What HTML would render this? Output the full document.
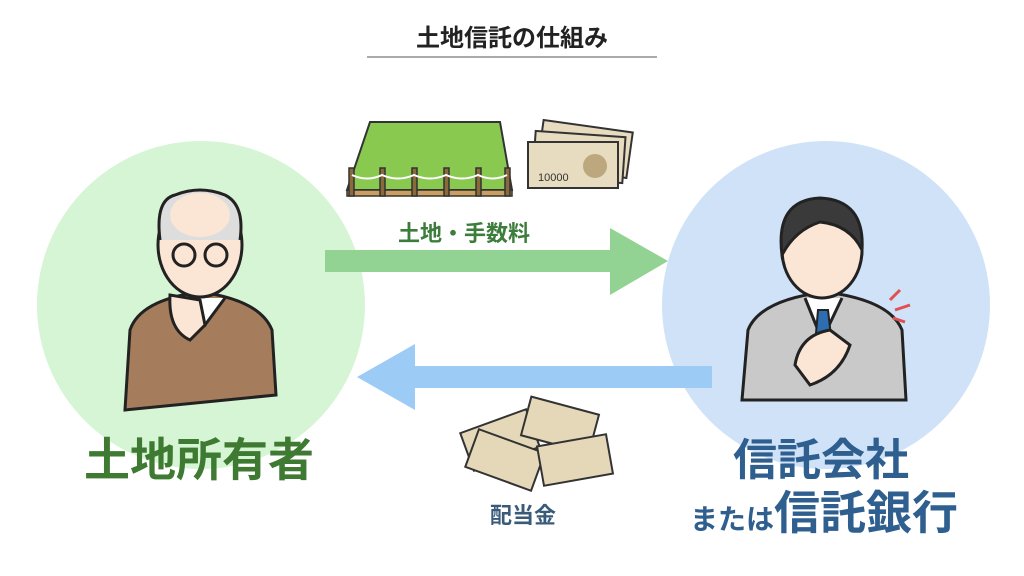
<!DOCTYPE html>
<html><head><meta charset="utf-8"><style>
body{margin:0;width:1024px;height:576px;background:#fff;overflow:hidden;position:relative;font-family:"Liberation Sans","Noto Sans CJK JP",sans-serif}
.t{position:absolute;font-weight:bold;white-space:nowrap}
</style></head><body>
<svg width="1024" height="576" style="position:absolute;left:0;top:0">
<circle cx="201" cy="305" r="164" fill="#d6f5d4"/>
<circle cx="826" cy="305" r="164" fill="#cfe2f7"/>
<line x1="367" y1="57" x2="657" y2="57" stroke="#555" stroke-width="1"/>
<polygon points="325,250 610,250 610,228 668,261 610,295 610,272 325,272" fill="#92d394"/>
<polygon points="712,366 415,366 415,344 357,377 415,410 415,388 712,388" fill="#9ccbf6"/>
<polygon points="370,122 500,122 512,190 347,190" fill="#8ac950" stroke="#333" stroke-width="2"/>
<polygon points="347,190 512,190 512,196 347,196" fill="#c99e60" stroke="#333" stroke-width="1.5"/>
<g fill="#8a6a3a" stroke="#333" stroke-width="1.5">
<rect x="349" y="168" width="5" height="28"/><rect x="380" y="168" width="5" height="28"/><rect x="412" y="168" width="5" height="28"/><rect x="444" y="168" width="5" height="28"/><rect x="476" y="168" width="5" height="28"/><rect x="505" y="168" width="5" height="28"/></g>
<path d="M352,175 Q367,182 382,175 Q398,182 414,175 Q430,182 446,175 Q462,182 478,175 Q493,182 507,175" stroke="#fff" stroke-width="2" fill="none"/>
<g stroke="#333" stroke-width="2" fill="#e8dcc0">
<rect x="540" y="126" width="90" height="46" transform="rotate(8 585 149)"/>
<rect x="534" y="134" width="90" height="46" transform="rotate(4 579 157)"/>
<rect x="528" y="142" width="90" height="46"/></g>
<circle cx="595" cy="166" r="12" fill="#bca77e"/>
<text x="538" y="181" font-size="11" fill="#333" font-family="Liberation Sans">10000</text>
<g stroke="#333" stroke-width="2" fill="#e5d8b8">
<rect x="465" y="420" width="70" height="40" transform="rotate(-20 500 440)"/>
<rect x="470" y="440" width="70" height="40" transform="rotate(20 505 460)"/>
<rect x="525" y="405" width="70" height="40" transform="rotate(15 560 425)"/>
<rect x="540" y="440" width="70" height="40" transform="rotate(-10 575 460)"/></g>
<path d="M125,410 L130,330 Q140,300 200,292 Q260,300 272,330 L276,395 Z" fill="#a57d5c" stroke="#222" stroke-width="3"/>
<path d="M185,298 L205,325 L225,298" fill="#fff" stroke="#222" stroke-width="3"/>
<ellipse cx="200" cy="245" rx="42" ry="52" fill="#fbe5d4" stroke="#222" stroke-width="3"/>
<path d="M160,240 Q155,200 175,195 Q200,185 225,195 Q245,205 240,240" fill="#ddd" stroke="#222" stroke-width="3"/>
<ellipse cx="200" cy="215" rx="30" ry="22" fill="#fbe5d4"/>
<circle cx="184" cy="255" r="11" fill="none" stroke="#222" stroke-width="3"/>
<circle cx="216" cy="255" r="11" fill="none" stroke="#222" stroke-width="3"/>
<path d="M170,295 Q168,330 190,340 L205,325 L200,300 Z" fill="#fbe5d4" stroke="#222" stroke-width="3"/>
<path d="M742,400 L748,330 Q760,300 825,292 Q890,300 902,330 L906,400 Z" fill="#c9c9c9" stroke="#222" stroke-width="3"/>
<path d="M805,298 L822,340 L842,298" fill="#fff" stroke="#222" stroke-width="3"/>
<path d="M818,310 L828,310 L832,345 L823,352 L815,345 Z" fill="#2d6db0" stroke="#222" stroke-width="2"/>
<ellipse cx="822" cy="250" rx="40" ry="48" fill="#fbe5d4" stroke="#222" stroke-width="3"/>
<path d="M782,255 Q775,200 820,198 Q865,200 862,250 Q850,225 820,222 Q795,230 782,255 Z" fill="#3a3a3a" stroke="#222" stroke-width="3"/>
<path d="M795,365 Q800,335 830,330 L850,345 Q840,375 810,385 Z" fill="#fbe5d4" stroke="#222" stroke-width="3"/>
<g stroke="#e05050" stroke-width="3"><line x1="890" y1="300" x2="900" y2="290"/><line x1="895" y1="310" x2="910" y2="305"/><line x1="893" y1="318" x2="905" y2="322"/></g>
</svg>
<div class="t" style="left:367px;top:18px;width:290px;text-align:center;font-size:24px;color:#222">土地信託の仕組み</div>
<div class="t" style="left:398px;top:216px;font-size:22px;color:#3c7d3c">土地・手数料</div>
<div class="t" style="left:84px;top:424px;font-size:46px;color:#3e7a32">土地所有者</div>
<div class="t" style="left:733px;top:424px;font-size:44px;color:#2f5f8f">信託会社</div>
<div class="t" style="left:690px;top:477px;font-size:28px;color:#2f5f8f">または<span style="font-size:46px">信託銀行</span></div>
<div class="t" style="left:490px;top:498px;font-size:22px;color:#3a5a7a">配当金</div>
</body></html>
